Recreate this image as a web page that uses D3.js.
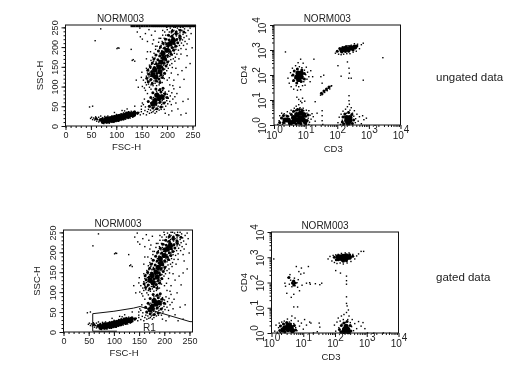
<!DOCTYPE html>
<html>
<head>
<meta charset="utf-8">
<script src="https://cdn.jsdelivr.net/npm/d3@7"></script>
<style>
  body { margin: 0; background: #fff; }
  svg { display: block; filter: blur(0.35px); }
  text { font-family: "Liberation Sans", sans-serif; fill: #222; }
</style>
</head>
<body>
<svg id="chart" width="525" height="369"></svg>
<script>
// all values
const sampleName = "NORM003";
const linearTicks = [0, 50, 100, 150, 200, 250];
const decadeTicks = [1, 10, 100, 1000, 10000];

// FSC-H / SSC-H, dense centres of the clouds
const scatterCore = [
  [74,13],[79,13],[84,14],[89,15],[94,16],[99,17],[104,19],[109,21],[114,23],[119,25],[124,27],[129,29],[134,31],
  [82,18],[92,20],[102,23],[112,26],[122,30],
  [176,64],[184,70],[190,74],[180,78],[172,56],
  [172,130],[178,124],[176,142],[184,150],[188,162],[194,172],[192,184],[200,192],[206,208],[212,216],[186,138]
];
// FSC-H / SSC-H, smaller patches around the centres
const scatterMid = [
  [163,112],[171,108],[179,114],[186,110],[160,121],[168,118],[176,122],[184,119],[191,123],[164,131],[172,128],[180,133],[188,129],[195,134],[162,141],[170,138],[177,143],[185,139],[192,144],[167,150],[175,148],[182,153],[190,149],[198,152],[171,160],[179,158],[186,163],[194,159],[201,162],[174,170],[182,168],[190,173],[197,169],[178,180],[186,178],[193,183],[201,179],[208,182],[183,190],[191,188],[198,193],[206,189],[213,192],[187,200],[195,198],[202,203],[210,199],[217,202],[192,210],[199,208],[207,213],[214,209],[221,211],[197,220],[204,218],[211,223],[219,219],[226,222],[203,230],[210,228],[218,233],[225,229],[210,240],[218,238],[226,243],[233,238],
  [165,50],[172,46],[180,44],[188,48],[163,62],[170,58],[178,56],[186,60],[194,58],[168,72],[176,68],[184,74],[192,70],[200,72],[172,84],[180,82],[188,86],[196,82],[178,94],[186,92],[192,96],
  [68,15],[72,18],[78,19],[86,21],[96,24],[106,27],[116,30],[126,33],[136,36],[142,33],[74,9],[84,10],[94,12],[104,14],[114,18],[124,22],[134,26],[60,19]
];
// FSC-H / SSC-H, loose dots
const scatterDots = [
  [48,21],[50,24],[52,18],[54,22],[56,17],[58,25],[60,14],[60,21],[62,18],[64,12],[64,24],[66,15],[67,20],[68,27],[70,10],[70,18],[72,23],[74,8],[76,26],[78,22],[80,9],[82,27],[85,9],[86,24],[90,11],[90,27],[94,11],[95,28],[98,13],[99,31],[103,14],[104,30],[108,16],[108,33],[112,18],[113,35],[117,19],[118,36],[122,21],[123,38],[126,22],[128,39],[131,24],[133,38],[136,28],[138,35],[140,32],[143,36],[146,30],[148,38],[152,33],[155,41],
  [52,52],[46,50],[57,218],[68,248],[102,200],[100,198],[104,199],[130,168],[132,170],[135,166],[95,36],[110,41],[120,45],[135,52],[148,52],[150,60],[115,40],
  [158,30],[160,38],[162,44],[164,34],[165,50],[166,42],[167,60],[168,36],[169,70],[170,46],[171,38],[171,64],[172,74],[173,42],[174,50],[175,34],[175,82],[176,44],[177,54],[177,70],[178,90],[178,38],[179,60],[180,46],[180,84],[181,52],[182,92],[183,42],[183,60],[184,80],[185,50],[185,96],[186,64],[187,44],[187,88],[188,56],[188,80],[189,66],[190,50],[190,92],[191,60],[192,84],[192,70],[193,44],[194,78],[195,62],[195,88],[196,52],[197,74],[198,66],[199,82],[200,58],[201,72],[202,90],[204,64],[205,78],[207,56],[208,86],[210,70],[214,76],[216,60],[220,45],[226,30],[236,34],[240,70],[208,40],[202,30],[195,34],
  [150,102],[154,98],[156,112],[158,106],[158,128],[160,118],[160,136],[162,108],[162,146],[163,126],[164,100],[164,156],[165,116],[165,138],[166,128],[166,148],[167,106],[167,168],[168,120],[168,136],[168,158],[169,112],[170,146],[170,176],[171,104],[171,126],[172,150],[172,166],[173,116],[173,186],[174,136],[174,158],[175,110],[175,124],[175,174],[176,150],[176,196],[177,118],[177,164],[178,104],[178,136],[178,182],[179,154],[179,204],[180,114],[180,128],[180,170],[181,146],[181,192],[182,120],[182,160],[182,214],[183,106],[183,136],[183,178],[184,128],[184,198],[185,116],[185,166],[185,186],[186,148],[186,224],[187,124],[187,174],[187,206],[188,134],[188,156],[188,192],[189,112],[189,180],[189,216],[190,146],[190,166],[190,232],[191,130],[191,198],[192,156],[192,176],[192,208],[193,122],[193,188],[193,224],[194,146],[194,164],[194,240],[195,134],[195,196],[195,214],[196,154],[196,180],[196,232],[197,168],[197,204],[198,142],[198,190],[198,222],[199,158],[199,212],[199,246],[200,176],[200,232],[201,148],[201,200],[202,166],[202,186],[202,220],[203,240],[203,208],[204,156],[204,178],[204,196],[205,228],[205,250],[206,170],[206,188],[207,216],[207,238],[208,160],[208,200],[209,182],[209,226],[209,246],[210,194],[210,210],[211,172],[211,234],[212,200],[212,244],[213,186],[213,224],[214,208],[214,236],[215,176],[215,252],[216,196],[216,218],[217,230],[217,242],[218,204],[218,184],[219,222],[219,250],[220,212],[220,236],[221,194],[222,226],[222,246],[223,206],[224,218],[224,238],[225,252],[226,198],[226,228],[227,212],[228,244],[229,220],[230,234],[231,206],[232,226],[233,248],[234,216],[235,238],[236,196],[237,230],[238,210],[240,244],[242,222],[244,250],[246,236],[248,200],
  [128,196],[140,240],[146,228],[150,222],[156,236],[160,216],[163,246],[168,232],[170,210],[175,242],[160,190],[145,250],[138,118],[142,100],[148,125],[244,160],[236,150],[228,142],[220,132],[232,120],[238,180],
  [203,124],[156,92],[167,95],[209,150],[152,118],[214,166],[199,118],[158,148],[222,172],[207,136],[149,138],[216,148],[226,184],[176,204],[183,224],[190,244],[198,252],[212,252],[230,252],[158,172],[166,190],[172,220],[204,106],[212,118],[160,84],[154,70],[148,44],[152,56],[156,50],[212,96],[218,84],[224,100],[230,64],[210,104]
];
// saturated events along the top edge
const scatterTopEdge = [128,133,138,143,148,153,158,163,168,172,176,180,184,188,192,196,200,204,208,212,216,220,224,228,232,236,240,244,248,252];

// gate R1 on the gated FSC/SSC plot
const gateR1 = [[106,2],[58,2],[58,46],[100,52],[139,60],[152,64],[195,47],[251,26],[256,26]];

// CD3 / CD4 in decades, ungated
const cdCore = [
  [0.62,0.3],[0.72,0.22],[0.82,0.3],[0.92,0.22],[0.72,0.42],[0.84,0.48],[0.94,0.42],[0.62,0.14],[0.8,0.12],[0.98,0.14],[0.45,0.2],[0.35,0.2],[0.52,0.1],
  [0.72,1.92],[0.8,2.0],[0.86,1.92],[0.76,2.08],[0.86,2.08],[0.78,1.82],
  [2.15,3.0],[2.25,3.04],[2.35,3.04],[2.45,3.08],[2.55,3.12],
  [2.3,0.18],[2.4,0.18],[2.3,0.3],[2.4,0.3],[2.35,0.08]
];
const cdMid = [
  [0.3,0.1],[0.42,0.35],[0.5,0.05],[0.55,0.42],[0.62,0.55],[0.72,0.6],[0.8,0.62],[0.9,0.58],[1.0,0.35],[1.05,0.18],[1.0,0.05],[0.85,0.05],[0.7,0.05],[0.24,0.28],[0.18,0.1],[0.3,0.38],[0.92,0.32],[1.08,0.4],
  [0.62,1.78],[0.6,2.0],[0.64,2.16],[0.74,2.24],[0.88,2.2],[0.96,2.06],[0.96,1.84],[0.86,1.74],[0.72,1.68],
  [2.0,2.95],[2.08,3.06],[2.14,2.92],[2.26,2.94],[2.36,2.95],[2.4,3.14],[2.28,3.14],[2.5,3.0],[2.62,3.16],[2.18,3.1],
  [2.16,0.12],[2.18,0.32],[2.24,0.44],[2.36,0.5],[2.46,0.42],[2.52,0.2],[2.48,0.06],[2.2,0.05],
  [1.5,1.27],[1.58,1.36],[1.66,1.44],[1.74,1.52]
];
const cdDots = [
  [0.1,0.05],[0.14,0.2],[0.16,0.4],[0.18,0.12],[0.2,0.3],[0.22,0.5],[0.25,0.06],[0.27,0.36],[0.3,0.48],[0.32,0.1],[0.36,0.42],[0.4,0.56],[0.44,0.38],[0.48,0.5],[0.52,0.62],[0.54,0.04],[0.58,0.55],[0.62,0.7],[0.66,0.6],[0.68,0.78],[0.72,0.68],[0.76,0.84],[0.8,0.72],[0.84,0.66],[0.86,0.92],[0.9,0.7],[0.92,0.6],[0.95,0.98],[1.0,0.62],[1.02,0.5],[1.06,0.3],[1.08,0.6],[1.1,0.14],[1.12,0.42],[1.15,0.26],[1.18,0.48],[1.22,0.36],[1.28,0.18],[1.34,0.5],[1.08,0.05],[0.76,1.05],[0.82,0.98],[0.88,1.1],[0.7,1.14],[1.28,0.96],[1.5,0.2],[1.5,0.4],[1.52,0.05],
  [0.42,1.9],[0.46,1.7],[0.5,2.12],[0.52,1.56],[0.54,2.0],[0.56,2.3],[0.58,1.78],[0.6,1.46],[0.62,2.18],[0.64,1.9],[0.66,2.4],[0.68,1.6],[0.7,2.26],[0.72,1.42],[0.74,2.52],[0.76,1.56],[0.78,2.36],[0.82,1.44],[0.82,2.66],[0.86,2.32],[0.88,1.6],[0.9,2.5],[0.92,1.76],[0.94,2.22],[0.96,1.62],[0.98,2.04],[1.0,2.34],[1.02,1.86],[1.04,2.14],[1.08,1.96],[1.12,1.76],[1.14,2.2],[1.2,1.96],[1.24,2.66],[1.46,1.96],[1.5,1.7],[1.55,2.02],[0.34,2.95],
  [1.45,1.22],[1.48,1.3],[1.52,1.27],[1.55,1.36],[1.58,1.33],[1.62,1.42],[1.66,1.4],[1.7,1.5],[1.74,1.47],[1.78,1.58],[1.8,1.6],[1.5,1.24],
  [1.92,2.9],[1.98,2.98],[2.02,2.86],[2.06,3.04],[2.1,2.84],[2.14,3.14],[2.18,2.86],[2.22,3.16],[2.28,2.88],[2.32,3.2],[2.38,2.88],[2.42,3.22],[2.48,2.94],[2.52,3.28],[2.58,2.98],[2.62,3.26],[2.68,3.08],[2.74,3.24],[2.8,3.3],[3.42,2.72],[2.3,2.55],[2.35,2.3],[2.1,1.98],[2.42,1.9],[2.34,1.9],[2.0,2.4],[2.8,1.82],[2.36,2.1],
  [2.0,0.12],[2.04,0.34],[2.08,0.05],[2.1,0.46],[2.14,0.22],[2.16,0.58],[2.2,0.38],[2.22,0.08],[2.24,0.66],[2.27,0.5],[2.3,0.76],[2.33,0.56],[2.36,0.86],[2.38,0.62],[2.42,0.72],[2.46,0.5],[2.5,0.38],[2.52,0.6],[2.55,0.12],[2.56,0.28],[2.6,0.46],[2.64,0.18],[2.68,0.36],[2.74,0.08],[2.78,0.4],[2.82,0.24],[2.9,0.3],[1.5,0.6],[2.35,1.2],[2.35,1.0]
];

// CD3 / CD4 in decades, gated
const gatedCore = [
  [0.42,0.2],[0.52,0.14],[0.62,0.22],[0.52,0.3],[0.36,0.12],[0.66,0.1],
  [2.15,2.96],[2.25,2.92],[2.35,2.96],[2.45,3.0],[2.25,3.04],[2.35,3.06],[2.1,3.02],
  [2.3,0.14],[2.4,0.14],[2.35,0.26],[2.28,0.06],[2.42,0.05]
];
const gatedMid = [
  [0.28,0.28],[0.38,0.36],[0.48,0.42],[0.6,0.36],[0.72,0.3],[0.76,0.12],[0.26,0.1],[0.42,0.04],
  [0.66,1.98],[0.74,1.98],[0.7,1.9],[0.7,2.06],[0.55,2.2],
  [1.98,3.0],[2.04,2.9],[2.16,3.06],[2.26,2.84],[2.36,2.86],[2.46,3.1],[2.56,3.04],[2.1,2.9],
  [2.14,0.14],[2.2,0.3],[2.28,0.4],[2.38,0.46],[2.48,0.3],[2.5,0.08],[2.18,0.05]
];
const gatedDots = [
  [0.08,0.1],[0.12,0.34],[0.16,0.06],[0.2,0.24],[0.22,0.42],[0.26,0.04],[0.28,0.32],[0.3,0.46],[0.34,0.38],[0.38,0.5],[0.44,0.42],[0.48,0.58],[0.54,0.46],[0.6,0.52],[0.62,0.7],[0.68,0.4],[0.72,0.62],[0.74,0.24],[0.78,0.12],[0.82,0.5],[0.86,0.3],[0.92,0.42],[0.98,0.18],[1.02,0.56],[1.08,0.34],[1.18,0.46],[1.22,0.42],[1.48,0.42],[1.5,0.26],[1.42,0.08],[0.8,1.06],[0.68,1.06],
  [0.05,2.96],[0.4,2.0],[0.42,1.88],[0.46,1.6],[0.5,2.22],[0.54,1.96],[0.56,2.34],[0.58,2.12],[0.6,1.44],[0.62,1.86],[0.64,2.08],[0.66,1.98],[0.68,1.56],[0.7,2.2],[0.72,1.9],[0.74,2.0],[0.76,2.66],[0.78,2.02],[0.8,1.84],[0.82,2.14],[0.84,2.46],[0.86,1.7],[0.9,2.36],[0.92,2.6],[0.94,1.92],[1.0,2.4],[1.08,2.0],[1.14,2.66],[1.18,2.02],[1.2,1.96],[1.36,1.98],[1.5,1.94],[1.56,2.0],
  [1.76,2.96],[1.82,3.06],[1.88,2.88],[1.92,3.1],[1.96,2.82],[2.0,3.12],[2.04,2.78],[2.08,3.14],[2.14,2.8],[2.18,3.18],[2.24,2.76],[2.3,3.2],[2.36,2.8],[2.42,3.2],[2.48,2.86],[2.54,3.14],[2.6,2.96],[2.66,3.08],[2.72,3.16],[2.8,3.26],[2.88,3.26],[2.0,2.5],[2.15,2.4],[2.34,2.28],[2.34,2.1],[2.34,1.96],[2.34,1.46],[2.34,1.2],[2.36,1.1],
  [1.96,0.34],[2.0,0.1],[2.04,0.46],[2.08,0.62],[2.1,0.24],[2.14,0.5],[2.16,0.06],[2.18,0.7],[2.2,0.38],[2.24,0.56],[2.26,0.76],[2.3,0.44],[2.34,0.84],[2.38,0.56],[2.4,0.94],[2.42,0.7],[2.46,0.44],[2.5,0.28],[2.52,0.56],[2.56,0.12],[2.6,0.4],[2.66,0.2],[2.72,0.48],[2.8,0.3],[2.86,0.44],[2.92,0.2],
  [3.0,0.03],[3.2,0.02],[3.5,0.03],[3.7,0.02],[1.3,0.03]
];

const svg = d3.select("#chart");

function styleAxis(g) {
    g.selectAll(".domain").remove();
    g.selectAll("line").attr("stroke", "#111");
}

function drawMarks(panel, x, y, dots, mid, core) {
    panel.selectAll(".core").data(core).join("circle").attr("class", "core")
        .attr("cx", d => x(d[0])).attr("cy", d => y(d[1])).attr("r", 2.6).attr("fill", "#000");
    panel.selectAll(".mid").data(mid).join("circle").attr("class", "mid")
        .attr("cx", d => x(d[0])).attr("cy", d => y(d[1])).attr("r", 1.5).attr("fill", "#000");
    panel.selectAll(".dot").data(dots).join("rect").attr("class", "dot")
        .attr("x", d => x(d[0])).attr("y", d => y(d[1]))
        .attr("width", 1.4).attr("height", 1.4).attr("fill", "#000");
}

function addLabels(panel, w, h, xLabel, yLabel, yOffset, xLabelGap) {
    panel.append("rect")
        .attr("width", w).attr("height", h)
        .attr("fill", "none").attr("stroke", "#111").attr("stroke-width", 1);
    panel.append("text").attr("x", w / 2 - 10).attr("y", -3.5)
        .attr("text-anchor", "middle").attr("font-size", 10).text(sampleName);
    panel.append("text").attr("x", w / 2 - 4).attr("y", h + xLabelGap)
        .attr("text-anchor", "middle").attr("font-size", 9.5).text(xLabel);
    panel.append("text").attr("transform", `translate(${yOffset},${h / 2}) rotate(-90)`)
        .attr("text-anchor", "middle").attr("font-size", 9.5).text(yLabel);
}

function linearPanel(box, dots, mid, core, topEdge, yOffset) {
    const w = box.right - box.left, h = box.bottom - box.top;
    const x = d3.scaleLinear().domain([0, 256]).range([0, w]);
    const y = d3.scaleLinear().domain([0, 256]).range([h, 0]);
    const panel = svg.append("g").attr("transform", `translate(${box.left},${box.top})`);

    drawMarks(panel, x, y, dots, mid, core);
    panel.selectAll(".edge").data(topEdge).join("rect").attr("class", "edge")
        .attr("x", d => x(d)).attr("y", 0).attr("width", 2.6).attr("height", 2.2).attr("fill", "#000");

    const minor = d3.range(0, 251, 10);
    const xg = panel.append("g").attr("transform", `translate(0,${h})`);
    xg.append("g").call(d3.axisBottom(x).tickValues(minor).tickSize(2).tickFormat("")).call(styleAxis);
    const xMajor = xg.append("g").call(d3.axisBottom(x).tickValues(linearTicks).tickSize(4).tickPadding(2)).call(styleAxis);
    xMajor.selectAll("text").attr("font-size", 9);

    const yg = panel.append("g");
    yg.append("g").call(d3.axisLeft(y).tickValues(minor).tickSize(2).tickFormat("")).call(styleAxis);
    const yMajor = yg.append("g").call(d3.axisLeft(y).tickValues(linearTicks).tickSize(4).tickPadding(2)).call(styleAxis);
    yMajor.selectAll("text").attr("font-size", 9)
        .attr("transform", "rotate(-90)")
        .attr("text-anchor", "middle")
        .attr("x", 0).attr("y", -8).attr("dy", 0);

    addLabels(panel, w, h, "FSC-H", "SSC-H", yOffset, 24);
    return { panel, x, y };
}

function logPanel(box, dots, mid, core, yOffset) {
    const w = box.right - box.left, h = box.bottom - box.top;
    const x = d3.scaleLog().domain([1, 10000]).range([0, w]);
    const y = d3.scaleLog().domain([1, 10000]).range([h, 0]);
    const xd = d => x(10 ** d), yd = d => y(10 ** d);
    const panel = svg.append("g").attr("transform", `translate(${box.left},${box.top})`);

    drawMarks(panel, xd, yd, dots, mid, core);

    const minor = decadeTicks.slice(0, 4).flatMap(t => d3.range(2, 10).map(m => t * m));
    const power = d => Math.round(Math.log10(d));
    const xg = panel.append("g").attr("transform", `translate(0,${h})`);
    xg.append("g").call(d3.axisBottom(x).tickValues(minor).tickSize(2).tickFormat("")).call(styleAxis);
    const xMajor = xg.append("g").call(d3.axisBottom(x).tickValues(decadeTicks).tickSize(4).tickFormat(d => "10")).call(styleAxis);
    xMajor.selectAll("text").attr("font-size", 10).attr("y", 14).attr("dy", 0)
        .append("tspan").attr("dy", -6).text(power);

    const yg = panel.append("g");
    yg.append("g").call(d3.axisLeft(y).tickValues(minor).tickSize(2).tickFormat("")).call(styleAxis);
    const yMajor = yg.append("g").call(d3.axisLeft(y).tickValues(decadeTicks).tickSize(4).tickFormat(d => "10")).call(styleAxis);
    yMajor.selectAll("text").attr("font-size", 10)
        .attr("transform", "rotate(-90)").attr("text-anchor", "middle")
        .attr("x", 0).attr("y", -8).attr("dy", 0)
        .append("tspan").attr("dy", -6).text(power);

    addLabels(panel, w, h, "CD3", "CD4", yOffset, 27);
    return { panel, x, y };
}

linearPanel({ left: 65.5, right: 195.5, top: 25, bottom: 126 }, scatterDots, scatterMid, scatterCore, scatterTopEdge, -23);
logPanel({ left: 274, right: 400.5, top: 25, bottom: 125 }, cdDots, cdMid, cdCore, -27);

const gated = linearPanel({ left: 63.5, right: 192.5, top: 230, bottom: 332 }, scatterDots, scatterMid, scatterCore, [], -24);
gated.panel.append("path")
    .attr("d", d3.line().x(d => gated.x(d[0])).y(d => gated.y(d[1]))(gateR1))
    .attr("fill", "none").attr("stroke", "#111").attr("stroke-width", 1);
gated.panel.append("text").attr("x", gated.x(158)).attr("y", gated.y(3))
    .attr("font-size", 10).text("R1");

logPanel({ left: 271.5, right: 398.5, top: 232, bottom: 333 }, gatedDots, gatedMid, gatedCore, -25);

svg.append("text").attr("x", 436).attr("y", 81).attr("font-size", 11.5).text("ungated data");
svg.append("text").attr("x", 436).attr("y", 281).attr("font-size", 11.5).text("gated data");
</script>
</body>
</html>
